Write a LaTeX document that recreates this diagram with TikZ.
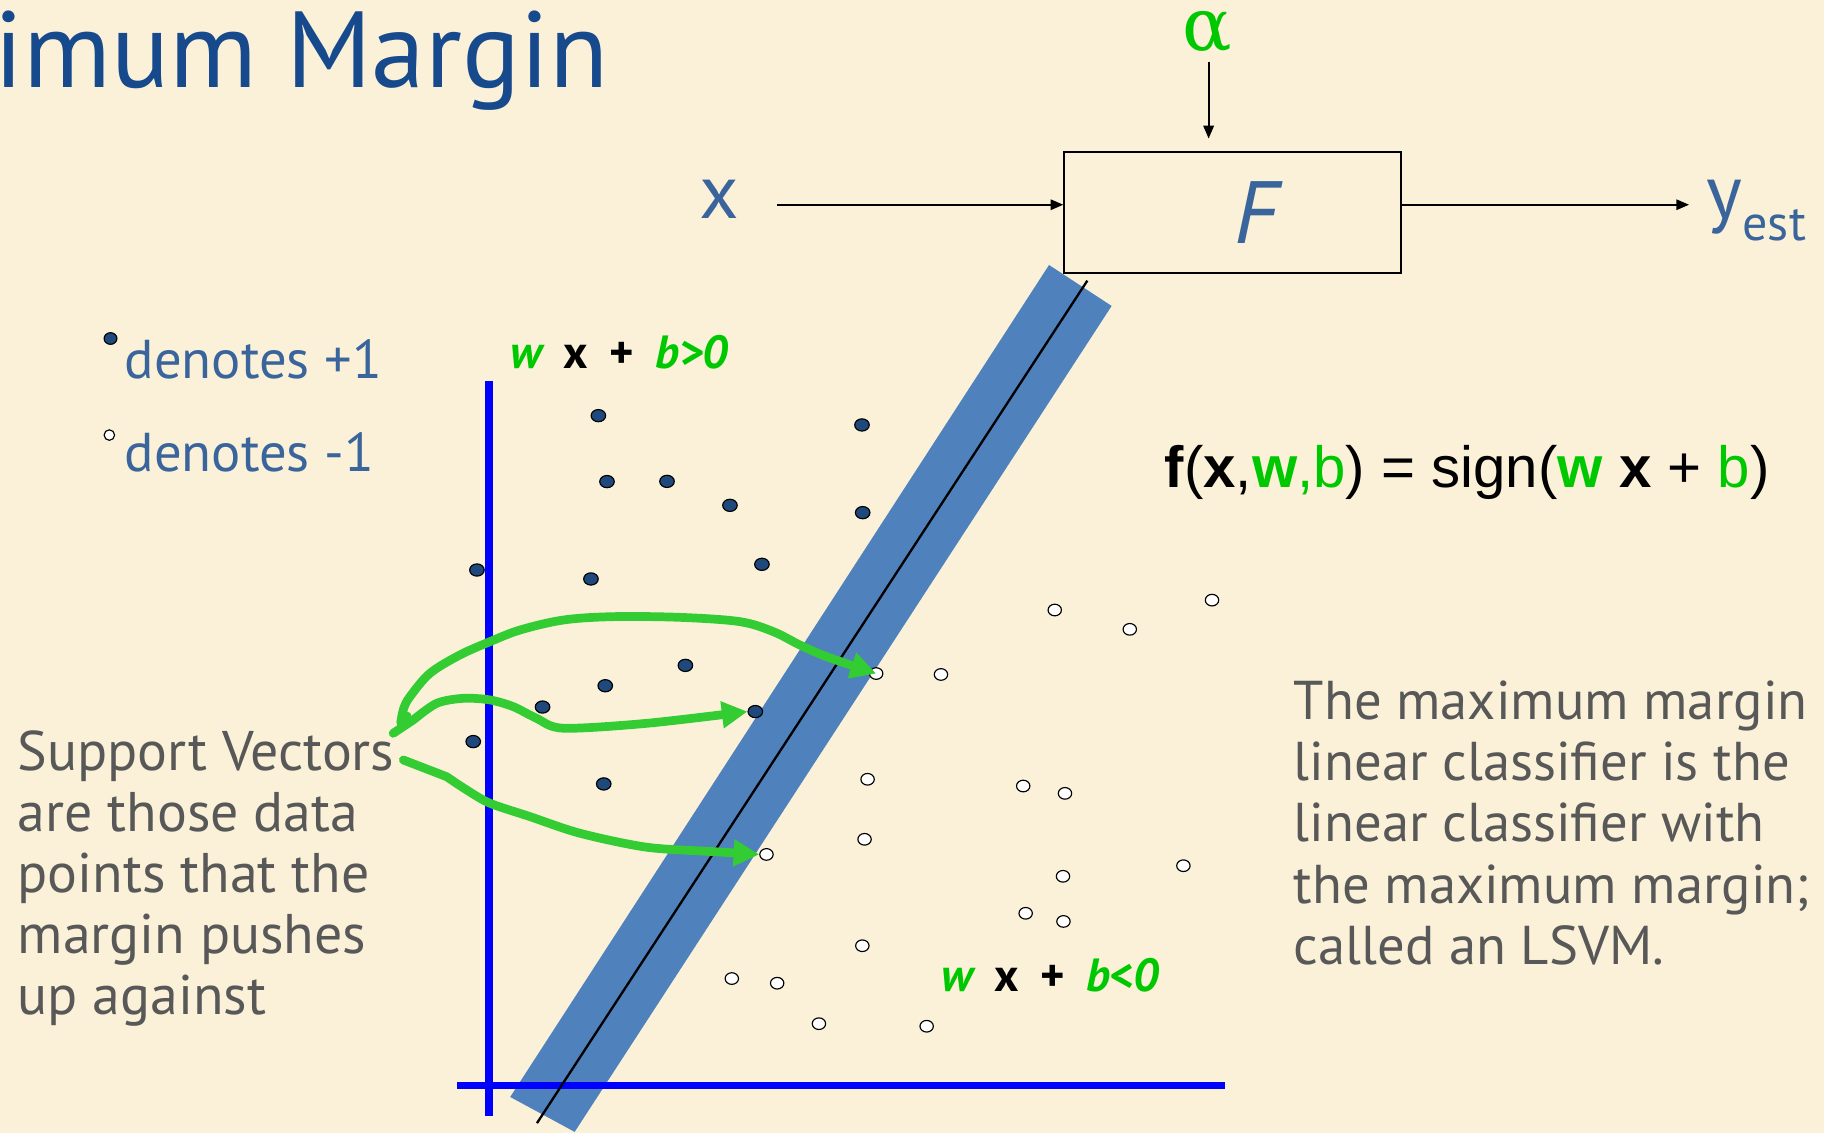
\documentclass[tikz,border=0pt]{standalone}
\usepackage{fontspec}
\setmainfont{PT Sans}
\newfontfamily\formfont{Liberation Sans}
\newfontfamily\serifgreek{DejaVu Serif}
\usetikzlibrary{arrows.meta,shapes.geometric}
\definecolor{bg}{RGB}{250,241,216}
\definecolor{titleblue}{RGB}{23,73,141}
\definecolor{txtblue}{RGB}{58,100,156}
\definecolor{ptblue}{RGB}{31,73,125}
\definecolor{bandblue}{RGB}{79,129,189}
\definecolor{axisblue}{RGB}{0,0,255}
\definecolor{sgreen}{RGB}{51,204,51}
\definecolor{tgreen}{RGB}{0,200,0}
\definecolor{txtgray}{RGB}{88,88,88}
\begin{document}
\begin{tikzpicture}[x=1pt,y=-1pt,
  plus/.style={ellipse, draw=black, line width=1pt, fill=ptblue, minimum width=12.5pt, minimum height=10.5pt, inner sep=0pt},
  minus/.style={ellipse, draw=black, line width=1pt, fill=white, minimum width=11.5pt, minimum height=10pt, inner sep=0pt},
  thinarr/.style={line width=1.5pt, -{Triangle[length=11pt,width=9pt]}},
  svarr/.style={draw=sgreen, line width=7.5pt, line join=round, line cap=round, -{Triangle[length=22pt,width=22pt]}},
  lbl/.style={anchor=base west, inner sep=0pt},
  side/.style={font=\fontsize{40}{42}\selectfont\bfseries}
]
\fill[bg] (0,0) rectangle (1568,974);
\useasboundingbox (0,0) rectangle (1568,974);

% title
\node[lbl, text=titleblue, font=\fontsize{93}{100}\selectfont] (title) at (-5,75) {imum Margin};

% margin band and separator
\fill[bandblue] (901.8,227.8) -- (955.6,263) -- (494,973) -- (438.6,943) -- cycle;
\draw[axisblue, line width=6.5pt] (420.4,327.5) -- (420.4,959.5);
\draw[axisblue, line width=6.5pt] (393,933) -- (1053,933);
\draw[black, line width=2pt] (934.7,241.3) -- (461.6,965.5);

% data points +1
\foreach \n/\x/\y in {f1/514.4/357.3, f2/741/365.3, f3/521.8/414, f4/573.4/413.8,
  f5/627.5/434.4, f6/741.6/440.7, f7/410/490, f8/508/497.7, f9/655/485.1,
  f10/589.2/572, f11/520.3/589.5, f12/466.4/607.8, f13/649.3/611.7,
  f14/406.8/637.5, f15/519/673.9}
  \node[plus] (\n) at (\x,\y) {};
% data points -1
\foreach \n/\x/\y in {o1/906.7/524.4, o2/971.2/541, o3/1041.9/515.9, o4/753.2/579,
  o5/808.9/579.8, o6/745.8/669.9, o7/879.6/675.7, o8/915.5/682, o9/743.2/721.5,
  o10/658.9/734.5, o11/1017.3/744.2, o12/913.8/753.3, o13/881.7/785.1,
  o14/914.2/792.1, o15/741.3/813, o16/629.1/841.2, o17/668.1/845.2,
  o18/704/880, o19/796.6/882.2}
  \node[minus] (\n) at (\x,\y) {};

% support vector arrows
\coordinate (s1) at (350,615.5);
\coordinate (s2) at (338,630.4);
\coordinate (s3) at (346.7,653.3);
\draw[svarr] (s1) -- plot[smooth, tension=0.55] coordinates {(344.5,621) (347,609) (352.4,598.9) (369.6,578.8) (395.4,563) (421.2,551.6) (447,541.6) (484.2,533) (527.2,530.1) (584.6,530.7) (636.1,534.4) (664.8,543) (687.7,554.5) (710.6,564.5) (o4.center)};
\draw[svarr] (s2) -- plot[smooth, tension=0.5] coordinates {(355.3,618.9) (375.4,604.6) (398.3,600.3) (421.2,601.7) (441.3,607.5) (461.3,617.5) (484.2,626) (555.9,621.8) (f13.west)};
\draw[svarr] (s3) -- plot[smooth, tension=0.5] coordinates {(384,667.7) (401.2,679.1) (421.2,690.5) (455.6,702) (498.6,716.3) (555.9,728.3) (613.2,732.1) (o10.west)};

% legend
\node[plus, minimum width=11pt, minimum height=10pt] (legplus) at (95,291) {};
\node[lbl, text=txtblue, font=\fontsize{47}{52}\selectfont] (legplustxt) at (107,325) {denotes +1};
\node[minus, minimum width=9pt, minimum height=9pt] (legminus) at (94,374) {};
\node[lbl, text=txtblue, font=\fontsize{47}{52}\selectfont] (legminustxt) at (107,405.5) {denotes -1};

% region labels
\node[lbl, side] (pos) at (439,317)
  {{\color{tgreen}\itshape w}\hspace{0.46em}x\hspace{0.46em}+\hspace{0.46em}{\color{tgreen}\itshape b>0}};
\node[lbl, side] (neg) at (809,852)
  {{\color{tgreen}\itshape w}\hspace{0.46em}x\hspace{0.46em}+\hspace{0.46em}{\color{tgreen}\itshape b<0}};

% formula
\node[lbl, font=\formfont\fontsize{50}{56}\selectfont] (formula) at (1001,419)
  {\textbf{f}(\textbf{x},{\color{tgreen}\textbf{w},b}) = sign({\color{tgreen}\textbf{w}} \textbf{x} + {\color{tgreen}b})};

% texts
\node[lbl, text=txtgray, font=\fontsize{48}{52.6}\selectfont] (svtext) at (15,662)
  {\begin{tabular}[t]{@{}l@{}}Support Vectors\\are those data\\points that the\\margin pushes\\up against\end{tabular}};
\node[lbl, text=txtgray, font=\fontsize{47}{52.6}\selectfont] (lsvmtext) at (1112,618.6)
  {\begin{tabular}[t]{@{}l@{}}The maximum margin\\linear classifier is the\\linear classifier with\\the maximum margin;\\called an LSVM.\end{tabular}};

% block diagram
\node[draw=black, line width=1.8pt, minimum width=289pt, minimum height=104pt, inner sep=0pt] (Fbox) at (1059.5,183) {};
\node[anchor=base, inner sep=0pt, text=txtblue, font=\fontsize{76}{80}\selectfont\itshape] (Flab) at (1080,209) {F};
\node[anchor=base, inner sep=0pt, text=txtblue, font=\fontsize{66}{70}\selectfont] (xin) at (618,188) {x};
\node[lbl, text=txtblue, font=\fontsize{66}{70}\selectfont] (yout) at (1467,188) {y\raisebox{-19pt}{\fontsize{43}{46}\selectfont est}};
\node[anchor=base, inner sep=0pt, text=tgreen, font=\serifgreek\fontsize{63}{66}\selectfont] (alpha) at (1038,43) {α};
\coordinate (xstart) at (668,176);
\coordinate (yend) at (1452,176);
\coordinate (astart) at (1039,53);
\draw[thinarr] (xstart) -- (xstart -| Fbox.west);
\draw[thinarr] (xstart -| Fbox.east) -- (yend);
\draw[thinarr, shorten >=11pt] (astart) -- (astart |- Fbox.north);
\end{tikzpicture}
\end{document}
